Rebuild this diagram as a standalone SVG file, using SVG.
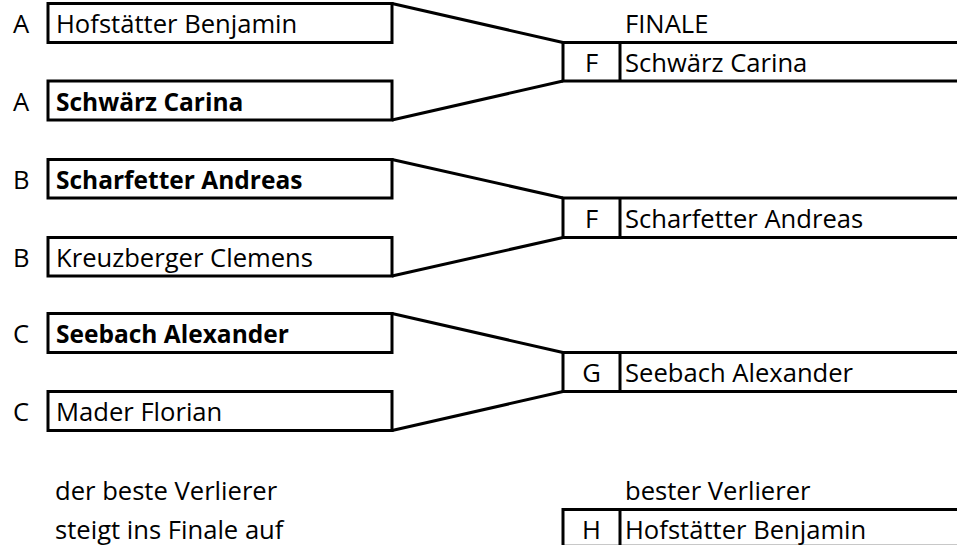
<svg xmlns="http://www.w3.org/2000/svg" width="957" height="545" viewBox="0 0 957 545">
<style>
.box{fill:#fff;stroke:#000;stroke-width:3}
.ln{fill:none;stroke:#000;stroke-width:3}
.t{font-family:"Open Sans","Liberation Sans",sans-serif;font-size:25.6px;fill:#000}
.b{font-weight:bold;font-size:24.5px}
.c{text-anchor:middle}
</style>
<rect width="957" height="545" fill="#fff"/>
<g id="connectors">
<polyline class="ln" points="392,3.5 563,42.5"/>
<polyline class="ln" points="392,120 563,81"/>
<polyline class="ln" points="392,159.5 563,198"/>
<polyline class="ln" points="392,276 563,237.5"/>
<polyline class="ln" points="392,313.5 563,352.5"/>
<polyline class="ln" points="392,430.5 563,391.5"/>
</g>
<g id="a1"><rect class="box" x="48" y="3.5" width="344" height="39"/><text class="t" x="13" y="33">A</text><text class="t" x="56" y="33">Hofstätter Benjamin</text></g>
<g id="a2"><rect class="box" x="48" y="81" width="344" height="39"/><text class="t" x="13" y="110.5">A</text><text class="t b" x="56" y="110.5">Schwärz Carina</text></g>
<g id="finale-label"><text class="t" x="625" y="33">FINALE</text></g>
<g id="f1"><rect class="box" x="563" y="42.5" width="400" height="38.5"/><line class="ln" x1="620" y1="42.5" x2="620" y2="81"/><text class="t c" x="591.5" y="72">F</text><text class="t" x="625" y="72">Schwärz Carina</text></g>
<g id="b1"><rect class="box" x="48" y="159.5" width="344" height="38.5"/><text class="t" x="13" y="188.5">B</text><text class="t b" x="56" y="188.5">Scharfetter Andreas</text></g>
<g id="b2"><rect class="box" x="48" y="237.5" width="344" height="38.5"/><text class="t" x="13" y="266.5">B</text><text class="t" x="56" y="266.5">Kreuzberger Clemens</text></g>
<g id="f2"><rect class="box" x="563" y="198" width="400" height="39.5"/><line class="ln" x1="620" y1="198" x2="620" y2="237.5"/><text class="t c" x="591.5" y="227.5">F</text><text class="t" x="625" y="227.5">Scharfetter Andreas</text></g>
<g id="c1"><rect class="box" x="48" y="313.5" width="344" height="39"/><text class="t" x="13" y="343">C</text><text class="t b" x="56" y="343">Seebach Alexander</text></g>
<g id="c2"><rect class="box" x="48" y="391.5" width="344" height="39"/><text class="t" x="13" y="421">C</text><text class="t" x="56" y="421">Mader Florian</text></g>
<g id="g1"><rect class="box" x="563" y="352.5" width="400" height="39"/><line class="ln" x1="620" y1="352.5" x2="620" y2="391.5"/><text class="t c" x="591.5" y="382">G</text><text class="t" x="625" y="382">Seebach Alexander</text></g>
<g id="note"><text class="t" x="55" y="499.5">der beste Verlierer</text><text class="t" x="55" y="538.5">steigt ins Finale auf</text></g>
<g id="loser-label"><text class="t" x="625" y="499.5">bester Verlierer</text></g>
<g id="h1"><line x1="563" y1="544.5" x2="957" y2="544.5" stroke="#c8c8c8" stroke-width="1"/><polyline class="ln" points="563,548 563,509.5 960,509.5"/><line class="ln" x1="620" y1="509.5" x2="620" y2="548"/><text class="t c" x="591.5" y="538.5">H</text><text class="t" x="625" y="538.5">Hofstätter Benjamin</text></g>
</svg>
